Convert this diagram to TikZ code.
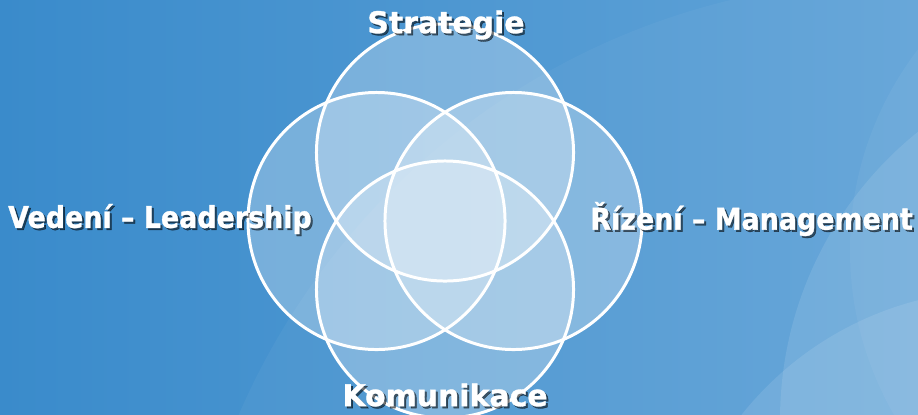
\documentclass[tikz,border=0pt]{standalone}
\usepackage{fontspec}
\setmainfont{DejaVu Sans}[BoldFeatures={FakeBold=1.1}]
\newfontfamily\narrowfont{DejaVu Sans}[BoldFeatures={FakeBold=1.1}, FakeStretch=0.9]
\definecolor{bgleft}{HTML}{3A8BCB}
\definecolor{bgright}{HTML}{62A4D8}
\tikzset{
  venn/.style={circle, draw=white, line width=3pt, fill=white, fill opacity=0.27,
    minimum size=258pt, inner sep=0pt},
  txt/.style={text=white, font=\fontsize{30}{34}\selectfont\bfseries, inner sep=0pt},
  sidetxt/.style={txt, font=\narrowfont\fontsize{30}{34}\selectfont\bfseries},
  shadowed/.style={text=black, text opacity=0.55, xshift=2pt, yshift=-2pt},
  glow/.style={fill=white, fill opacity=#1}
}
\begin{document}
\begin{tikzpicture}[x=1bp, y=-1bp]

    %----- BACKGROUND -----
    \useasboundingbox (0,0) rectangle (918,414);
    \shade[left color=bgleft, right color=bgright] (0,0) rectangle (918,414);
    \begin{scope}
        \clip (0,0) rectangle (918,414);
        \fill[glow=0.04] (900,700) circle (720);
        \fill[glow=0.05] (1180,250) circle (330);
        \fill[glow=0.10] (1150,420) circle (370);
        \fill[glow=0.10] (1000,620) circle (330);
    \end{scope}

    %----- FOUR CIRCLES -----
    \pgfmathsetmacro{\cx}{445}
    \pgfmathsetmacro{\cy}{221}
    \pgfmathsetmacro{\off}{68.5}
    \node[venn] (strategiec)  at (\cx, \cy-\off) {};
    \node[venn] (vedenic)     at (\cx-\off, \cy) {};
    \node[venn] (rizenic)     at (\cx+\off, \cy) {};
    \node[venn] (komunikacec) at (\cx, \cy+\off) {};

    %----- LABELS (with shadow) -----
    \node[txt, shadowed] at (446,25) {Strategie};
    \node[txt] (strategie) at (446,25) {Strategie};

    \node[sidetxt, shadowed, anchor=west] at (8,219) {Vedení – Leadership};
    \node[sidetxt, anchor=west] (vedeni) at (8,219) {Vedení – Leadership};

    \node[sidetxt, shadowed, anchor=east] at (913,219) {Řízení – Management};
    \node[sidetxt, anchor=east] (rizeni) at (913,219) {Řízení – Management};

    \node[txt, shadowed] at (445,395) {Komunikace};
    \node[txt] (komunikace) at (445,395) {Komunikace};

\end{tikzpicture}
\end{document}
